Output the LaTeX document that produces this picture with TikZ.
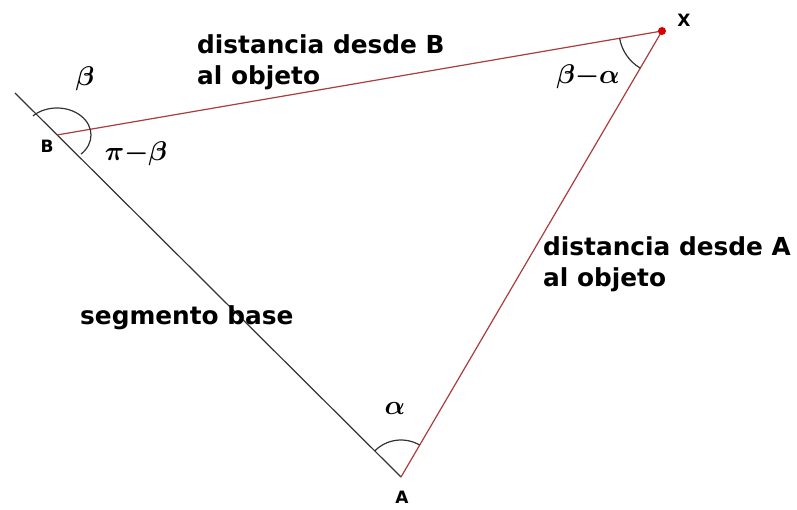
\RequirePackage{fix-cm}
\documentclass[tikz,border=0pt]{standalone}
\usepackage{amsmath,bm}
\usepackage{fontspec}
\newfontfamily\lbl{DejaVu Sans}
\definecolor{redline}{RGB}{170,60,60}
\begin{document}
\begin{tikzpicture}[x=1pt,y=-1pt,
  txt/.style={font=\lbl\bfseries\fontsize{24.8}{31}\selectfont, align=left, inner sep=0pt, anchor=west},
  pt/.style={font=\lbl\bfseries\fontsize{17}{20}\selectfont, inner sep=0pt},
  gr/.style={font=\fontsize{27}{30}\selectfont, inner sep=0pt},
  baseline/.style={line width=1.2pt, black!80},
  redl/.style={line width=1.2pt, redline},
  angarc/.style={line width=1.2pt, black!80}]
\useasboundingbox (0,0) rectangle (797,510);
\coordinate (E) at (15,93);
\coordinate (B) at (57,135);
\coordinate (A) at (401,477);
\coordinate (X) at (662,31);
\draw[baseline] (E) -- (A);
\draw[redl] (B) -- (X);
\draw[redl] (A) -- (X);
\fill[red!85!black] (X) circle (4);
% angle arcs
\draw[angarc] ([shift={(-135:34 and 27)}]B) arc[start angle=-135, end angle=45, x radius=34, y radius=27];
\draw[angarc] ([shift={(120.3:43)}]X) arc[start angle=120.3, end angle=170.25, radius=43];
\draw[angarc] ([shift={(-135:37)}]A) arc[start angle=-135, end angle=-59.7, radius=37];
% labels
\node[txt] (tB) at (197,62) {distancia desde B\\al objeto};
\node[txt] (tA) at (543,264) {distancia desde A\\al objeto};
\node[txt] (tS) at (80,318) {segmento base};
\node[pt] (lB) at (47,146) {B};
\node[pt] (lX) at (684,20) {X};
\node[pt] (lA) at (402,497) {A};
\node[gr] (gb) at (85,79) {$\boldsymbol{\beta}$};
\node[gr] (gpb) at (136,154) {$\boldsymbol{\pi{-}\beta}$};
\node[gr] (gba) at (588,77) {$\boldsymbol{\beta{-}\alpha}$};
\node[gr] (ga) at (395,408) {$\boldsymbol{\alpha}$};
\end{tikzpicture}
\end{document}
